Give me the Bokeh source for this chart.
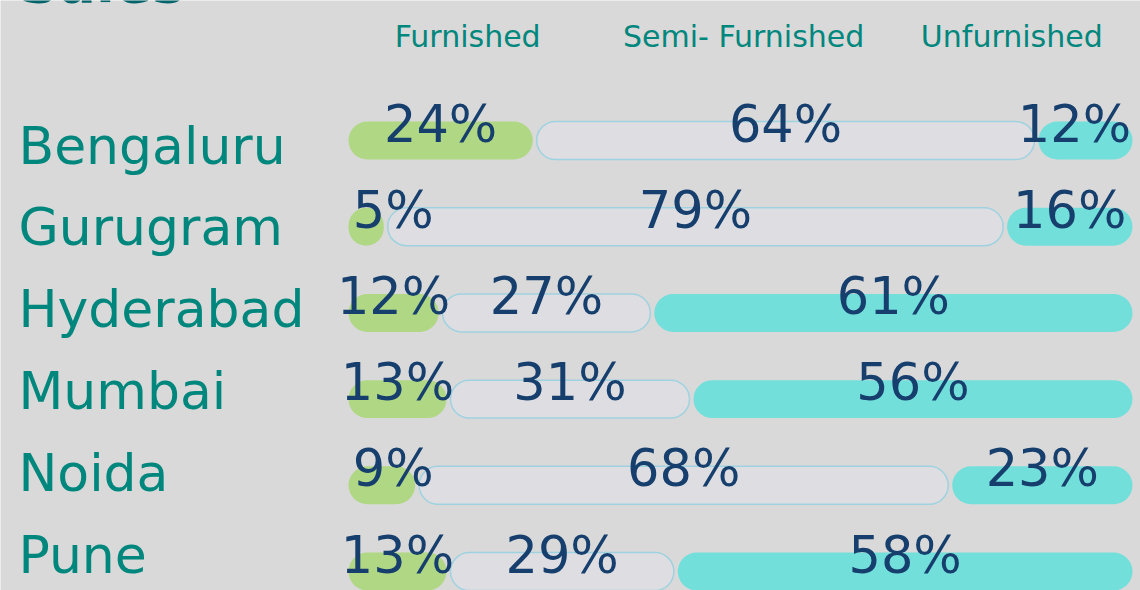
from bokeh.plotting import figure
from bokeh.models import Range1d, ColumnDataSource
from bokeh.core.properties import value
from bokeh.embed import file_html
from bokeh.resources import INLINE

# ---- data ----
title = "Sales"
categories = ["Furnished", "Semi- Furnished", "Unfurnished"]
cities = ["Bengaluru", "Gurugram", "Hyderabad", "Mumbai", "Noida", "Pune"]
furnished = [24, 5, 12, 13, 9, 13]
semi_furnished = [64, 79, 27, 31, 68, 29]
unfurnished = [12, 16, 61, 56, 23, 58]

# ---- style ----
BG = "#d9d9d9"
GREEN = "#b0d784"
GREY = "#dedee2"
GREY_LINE = "#9fd2e0"
CYAN = "#72dfdb"
NAVY = "#163f6e"
TEAL = "#00877d"
TITLE_C = "#00646a"
FONT = value("DejaVu Sans")

W, H = 1140, 590
p = figure(width=W, height=H, output_backend="svg", toolbar_location=None,
           x_range=Range1d(-44.39, 101.02), y_range=Range1d(5.22, -1.624),
           min_border=0, border_fill_color=BG, background_fill_color=BG,
           outline_line_color=None)
p.axis.visible = False
p.grid.visible = False

n = len(cities)
rows = list(range(n))
gap = 0.5
bar_h = 0.44
radius = 19
pct_shift = -0.19
label_min, label_max = 5.7, 92.6   # keep value labels inside the chart area

series = [furnished, semi_furnished, unfurnished]
fills = [GREEN, GREY, CYAN]
lines = [None, GREY_LINE, None]

sources = []
cum = [0] * n
for k, vals in enumerate(series):
    left = list(cum)
    right = [c + v for c, v in zip(cum, vals)]
    vis_right = [r - gap if k < len(series) - 1 else r for r in right]
    mids = [min(max((l + r) / 2, label_min), label_max) for l, r in zip(left, vis_right)]
    src = ColumnDataSource(dict(y=rows, left=left, right=vis_right,
                                ty=[r + pct_shift for r in rows],
                                mid=mids,
                                lab=[f"{v}%" for v in vals]))
    p.hbar(y="y", left="left", right="right", height=bar_h, source=src,
           fill_color=fills[k], line_color=lines[k], line_width=1.5,
           border_radius=radius)
    sources.append(src)
    cum = right

# value labels on top of all bars
for src in sources:
    p.text(x="mid", y="ty", text="lab", source=src, text_align="center",
           text_baseline="alphabetic", text_color=NAVY,
           text_font=FONT, text_font_size="51px")

# city labels
label_y = [0.06 + 0.949 * r for r in rows]
p.text(x=[-42.1] * n, y=label_y, text=cities, text_align="left",
       text_baseline="alphabetic", text_color=TEAL,
       text_font=FONT, text_font_size="52px")

# column headers
header_x = [15.2, 50.4, 84.6]
p.text(x=header_x, y=[-1.21] * 3, text=categories, text_align="center",
       text_baseline="alphabetic", text_color=TEAL,
       text_font=FONT, text_font_size="30px")

# title (mostly cut off at top, as in the original)
p.text(x=[-42.0], y=[-1.83], text=[title], text_align="left",
       text_baseline="alphabetic", text_color=TITLE_C,
       text_font=FONT, text_font_style="bold", text_font_size="55px")

open("out.html", "w").write(file_html(p, INLINE))
